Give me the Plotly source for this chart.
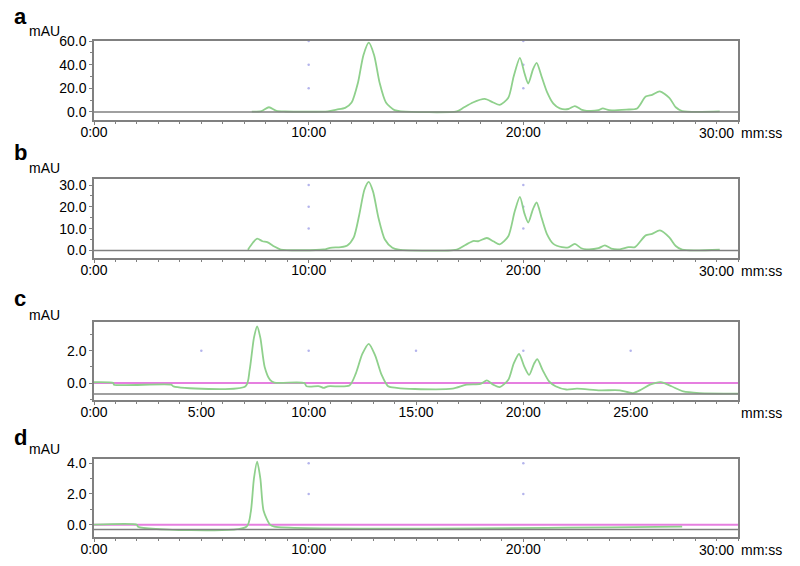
import plotly.graph_objects as go

# retention time (min) and absorbance (mAU)
t_a = [7.35, 7.8, 8.15, 8.5, 8.9, 10.9, 11.3, 11.7, 12.0, 12.3, 12.55, 12.8, 13.05, 13.3, 13.6, 14.0, 14.3,
       16.9, 17.2, 17.65, 18.2, 18.6, 18.9, 19.3, 19.55, 19.84, 20.05, 20.23, 20.45, 20.62, 20.85, 21.1, 21.4,
       21.7, 22.1, 22.4, 22.7, 22.95, 23.5, 23.7, 24.0, 24.8, 25.3, 25.7, 26.0, 26.36, 26.8, 27.1, 27.4, 29.15]
v_a = [0.3, 0.8, 4.0, 1.0, 0.4, 0.5, 2.0, 3.5, 8, 25, 48, 58.6, 48, 25, 8, 1.5, 0.5,
       0.5, 3.5, 8, 11.0, 8, 6, 12, 30, 45.8, 33, 24, 36, 41.5, 30, 17, 7,
       3, 2.5, 5, 2, 1, 1.5, 3, 1.5, 2, 3, 13, 14.5, 17.4, 12, 4, 0.8, 0.5]

t_b = [7.17, 7.4, 7.6, 7.85, 8.07, 8.4, 8.7, 10.7, 11.0, 11.5, 11.8, 12.1, 12.35, 12.6, 12.8, 13.0, 13.25,
       13.55, 13.9, 14.2, 16.9, 17.3, 17.66, 17.9, 18.3, 18.6, 18.9, 19.3, 19.6, 19.84, 20.05, 20.23, 20.45,
       20.62, 20.85, 21.1, 21.4, 21.8, 22.1, 22.4, 22.7, 22.95, 23.5, 23.8, 24.1, 24.5, 24.9, 25.2, 25.7,
       26.0, 26.36, 26.8, 27.1, 27.4, 29.15]
v_b = [0.3, 3.5, 5.4, 4.2, 3.8, 1.8, 0.4, 0.4, 1.2, 1.5, 2.3, 6, 16, 28, 31.5, 27, 15,
       5, 1.2, 0.3, 0.4, 2.5, 4.3, 4.2, 5.7, 4.2, 2.8, 6.5, 18, 24.6, 17, 12.8, 19,
       22, 15, 7.5, 3, 1.5, 1.4, 3, 1, 0.5, 1, 2.3, 0.8, 0.5, 1.5, 1.5, 6.9,
       7.6, 9.2, 6, 2, 0.3, 0.3]

t_c = [0, 0.9, 0.93, 3.6, 3.7, 7.06, 7.25, 7.45, 7.6, 7.75, 7.95, 8.2, 8.4, 9.8, 9.9, 10.5, 10.7, 10.9,
       11.9, 12.2, 12.5, 12.8, 13.1, 13.4, 13.7, 14.1, 14.95, 16.7, 17.36, 18.0, 18.3, 18.6, 18.9, 19.3,
       19.55, 19.8, 20.05, 20.27, 20.5, 20.65, 20.9, 21.2, 21.5, 22.0, 22.5, 23.57, 24.5, 25.1, 25.5, 25.9,
       26.4, 26.9, 27.45, 28.2, 30]
v_c = [0.05, 0.0, -0.1, -0.1, -0.21, -0.2, 0.8, 2.8, 3.5, 2.8, 1.0, 0.2, 0.03, 0.0, -0.2, -0.2, -0.3, -0.2,
       -0.15, 0.6, 1.8, 2.43, 1.7, 0.5, -0.2, -0.3, -0.37, -0.35, -0.1, -0.05, 0.16, -0.1, -0.25, 0.2,
       1.2, 1.8, 1.0, 0.5, 1.2, 1.48, 0.8, 0.1, -0.2, -0.4, -0.35, -0.45, -0.45, -0.62, -0.4, -0.1,
       0.06, -0.2, -0.52, -0.62, -0.65]

t_d = [0, 2, 2.05, 7.1, 7.3, 7.45, 7.6, 7.75, 7.9, 8.2, 8.4, 27.4]
v_d = [0, 0, -0.13, -0.13, 0.8, 3.0, 4.1, 3.0, 0.9, 0.0, -0.13, -0.13]

# flat reference trace (magenta) in c and d
ref_t = [0, 30]
ref_v = [0, 0]

# grey baseline level of each panel
base_levels = [0, 0, -0.68, -0.32]

letters = ["a", "b", "c", "d"]
y_ticks = [[0, 20, 40, 60], [0, 10, 20, 30], [0, 2], [0, 2, 4]]
y_ticktext = [["0.0", "20.0", "40.0", "60.0"], ["0.0", "10.0", "20.0", "30.0"], ["0.0", "2.0"], ["0.0", "2.0", "4.0"]]
x_ticks = [[0, 10, 20], [0, 10, 20], [0, 5, 10, 15, 20, 25], [0, 10, 20]]
x_ticktext = [["0:00", "10:00", "20:00"], ["0:00", "10:00", "20:00"],
              ["0:00", "5:00", "10:00", "15:00", "20:00", "25:00"], ["0:00", "10:00", "20:00"]]
end_label = ["30:00", "30:00", "", "30:00"]

# page has an 8px body margin: build the figure 16px smaller and work in page pixels
OFF = 8
W, H = 800 - 2 * OFF, 566 - 2 * OFF
L, R = 94, 738
panels_px = [(41, 120), (179, 258), (322, 400), (459, 537)]
y_ranges = [[-6.8, 60], [-3.5, 32.8], [-1.05, 3.78], [-0.8, 4.27]]
letter_y = [17, 152, 298, 437]
mau_y = [31, 168, 315, 449]

GREEN = "#8fd08c"
GREY = "#808080"
MAGENTA = "#e67fe0"
FONT = "Liberation Sans, Arial, sans-serif"


def px_x(x):
    return (x - L) / (R - L)


def px_y(y):
    return 1 - (y - OFF) / H


series = [(t_a, v_a), (t_b, v_b), (t_c, v_c), (t_d, v_d)]

fig = go.Figure()
layout = dict(width=W, height=H, margin=dict(l=L - OFF, r=W - (R - OFF), t=0, b=0, pad=0),
              plot_bgcolor="white", paper_bgcolor="white", showlegend=False,
              font=dict(family=FONT, size=14, color="black"))
annotations = []
shapes = []

for i in range(4):
    n = "" if i == 0 else str(i + 1)
    xa, ya = "x" + n, "y" + n
    top, bot = panels_px[i]
    layout["xaxis" + n] = dict(
        domain=[0, 1], range=[0, 30], anchor=ya, showgrid=False, zeroline=False, automargin=False,
        showline=True, linecolor=GREY, linewidth=1.5, mirror=True,
        tickvals=x_ticks[i], ticktext=x_ticktext[i], ticks="outside", ticklen=3,
        tickcolor=GREY, tickwidth=1, ticklabelstandoff=-5,
        minor=dict(dtick=1, ticks="outside", ticklen=2, tickcolor=GREY),
        tickfont=dict(size=14))
    layout["yaxis" + n] = dict(
        domain=[px_y(bot), px_y(top)], range=y_ranges[i], anchor=xa, showgrid=False,
        zeroline=False, automargin=False, showline=True, linecolor=GREY, linewidth=1.5, mirror=True,
        tickvals=y_ticks[i], ticktext=y_ticktext[i], ticks="outside", ticklen=3,
        tickcolor=GREY, minor=dict(dtick=(y_ticks[i][1] - y_ticks[i][0]) / 2, ticks="outside",
                                   ticklen=2, tickcolor=GREY),
        tickfont=dict(size=14))

    shapes.append(dict(type="line", xref=xa + " domain", yref=ya, x0=0, x1=1,
                       y0=base_levels[i], y1=base_levels[i], line=dict(color=GREY, width=1.5)))

    # faint grid dots at interior tick crossings
    gx, gy = [], []
    for tx in x_ticks[i][1:]:
        for ty in y_ticks[i][1:]:
            gx.append(tx)
            gy.append(ty)
    fig.add_trace(go.Scatter(x=gx, y=gy, mode="markers", xaxis=xa, yaxis=ya,
                             marker=dict(size=2.5, color="#b4b4ec"), hoverinfo="skip"))

    if i >= 2:
        fig.add_trace(go.Scatter(x=ref_t, y=ref_v, mode="lines", xaxis=xa, yaxis=ya,
                                 line=dict(color=MAGENTA, width=2)))

    t, v = series[i]
    fig.add_trace(go.Scatter(x=t, y=v, mode="lines", xaxis=xa, yaxis=ya,
                             line=dict(color=GREEN, width=1.8, shape="spline", smoothing=0.7)))

    annotations.append(dict(text="<b>%s</b>" % letters[i], xref="paper", yref="paper",
                            x=px_x(12), y=px_y(letter_y[i]), xanchor="left", yanchor="middle",
                            showarrow=False, font=dict(size=22, color="black")))
    annotations.append(dict(text="mAU", xref="paper", yref="paper",
                            x=px_x(27), y=px_y(mau_y[i]), xanchor="left", yanchor="middle",
                            showarrow=False, font=dict(size=14, color="black")))
    if end_label[i]:
        annotations.append(dict(text=end_label[i], xref=xa, yref=ya + " domain", x=30, y=0,
                                xanchor="right", yanchor="top", yshift=-3, xshift=-2,
                                showarrow=False, font=dict(size=14)))
    annotations.append(dict(text="mm:ss", xref=xa, yref=ya + " domain", x=30, y=0,
                            xanchor="left", yanchor="top", yshift=-3, xshift=1,
                            showarrow=False, font=dict(size=14)))

layout["annotations"] = annotations
layout["shapes"] = shapes
fig.update_layout(**layout)

fig.write_html("out.html")
